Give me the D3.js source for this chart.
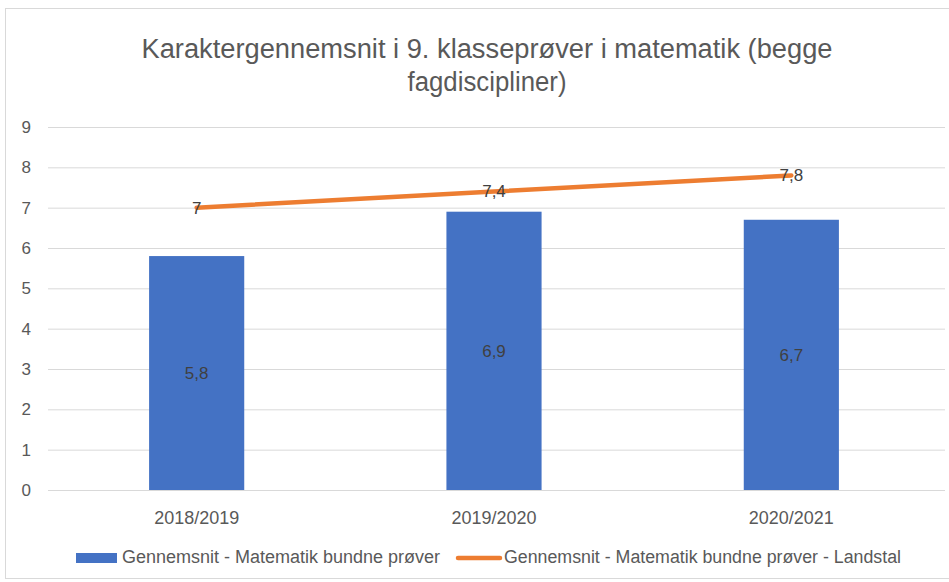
<!DOCTYPE html>
<html>
<head>
<meta charset="utf-8">
<script src="https://d3js.org/d3.v7.min.js"></script>
<style>
  body { margin: 0; background: #fff; }
  text { font-family: "Liberation Sans", Arial, sans-serif; fill: #595959; }
</style>
</head>
<body>
<div id="chart"></div>
<script>
const categories = ["2018/2019", "2019/2020", "2020/2021"];
const barValues = [5.8, 6.9, 6.7];
const lineValues = [7, 7.4, 7.8];
const yTicks = [0, 1, 2, 3, 4, 5, 6, 7, 8, 9];
const seriesNames = ["Gennemsnit - Matematik bundne prøver", "Gennemsnit - Matematik bundne prøver - Landstal"];
const titleLines = ["Karaktergennemsnit i 9. klasseprøver i matematik (begge", "fagdiscipliner)"];

const W = 949, H = 582;
const margin = { top: 127, right: 9, bottom: 92, left: 48 };

const svg = d3.select("#chart").append("svg")
  .attr("width", W).attr("height", H);

// chart frame
svg.append("rect")
  .attr("x", 5.5).attr("y", 8.5)
  .attr("width", 960).attr("height", 570)
  .attr("fill", "none").attr("stroke", "#d9d9d9");

const x = d3.scaleBand()
  .domain(categories)
  .range([margin.left, W - margin.right])
  .paddingInner(0.68).paddingOuter(0.34);

const xc = d => x(d) + x.bandwidth() / 2;

const y = d3.scaleLinear()
  .domain([0, 9])
  .range([H - margin.bottom, margin.top]);

// gridlines
svg.append("g")
  .selectAll("line").data(yTicks).join("line")
  .attr("x1", margin.left).attr("x2", W - margin.right + 5)
  .attr("y1", d => y(d) + 0.5).attr("y2", d => y(d) + 0.5)
  .attr("stroke", "#d9d9d9").attr("stroke-width", 1);

// y labels
svg.append("g")
  .selectAll("text").data(yTicks).join("text")
  .attr("x", 31).attr("y", d => y(d))
  .attr("dy", "0.35em")
  .attr("text-anchor", "end")
  .style("font-size", "17px")
  .text(d => d);

// x labels
svg.append("g")
  .selectAll("text").data(categories).join("text")
  .attr("x", d => xc(d)).attr("y", y(0) + 34)
  .attr("text-anchor", "middle")
  .attr("textLength", 85).attr("lengthAdjust", "spacingAndGlyphs")
  .style("font-size", "18px")
  .text(d => d);

// bars
svg.append("g")
  .selectAll("rect").data(categories).join("rect")
  .attr("x", d => x(d))
  .attr("y", (d, i) => y(barValues[i]))
  .attr("width", x.bandwidth())
  .attr("height", (d, i) => y(0) - y(barValues[i]))
  .attr("fill", "#4472C4");

// bar labels
svg.append("g")
  .selectAll("text").data(categories).join("text")
  .attr("x", d => xc(d))
  .attr("y", (d, i) => y(barValues[i] / 2))
  .attr("dy", "0.35em")
  .attr("text-anchor", "middle")
  .style("font-size", "17px")
  .style("fill", "#404040")
  .text((d, i) => String(barValues[i]).replace(".", ","));

// line
const line = d3.line()
  .x((d, i) => xc(categories[i]))
  .y(d => y(d));

svg.append("path")
  .datum(lineValues)
  .attr("d", line)
  .attr("fill", "none")
  .attr("stroke", "#ED7D31")
  .attr("stroke-width", 4.5)
  .attr("stroke-linecap", "round");

svg.append("g")
  .selectAll("text").data(lineValues).join("text")
  .attr("x", (d, i) => xc(categories[i]))
  .attr("y", d => y(d))
  .attr("dy", "0.35em")
  .attr("text-anchor", "middle")
  .style("font-size", "17px")
  .style("fill", "#404040")
  .text(d => String(d).replace(".", ","));

// title
const titleWidths = [691, 159];
svg.append("g")
  .selectAll("text").data(titleLines).join("text")
  .attr("x", 487).attr("y", (d, i) => 58 + i * 33)
  .attr("text-anchor", "middle")
  .attr("textLength", (d, i) => titleWidths[i])
  .attr("lengthAdjust", "spacingAndGlyphs")
  .style("font-size", "27px")
  .text(d => d);

// legend
const lg = svg.append("g");
lg.append("rect")
  .attr("x", 76).attr("y", 553).attr("width", 41).attr("height", 10)
  .attr("fill", "#4472C4");
lg.append("text")
  .attr("x", 122).attr("y", 563)
  .attr("textLength", 318).attr("lengthAdjust", "spacingAndGlyphs")
  .style("font-size", "18px")
  .text(seriesNames[0]);
lg.append("line")
  .attr("x1", 458).attr("x2", 500).attr("y1", 558).attr("y2", 558)
  .attr("stroke", "#ED7D31").attr("stroke-width", 4.5)
  .attr("stroke-linecap", "round");
lg.append("text")
  .attr("x", 504).attr("y", 563)
  .attr("textLength", 397).attr("lengthAdjust", "spacingAndGlyphs")
  .style("font-size", "18px")
  .text(seriesNames[1]);
</script>
</body>
</html>
